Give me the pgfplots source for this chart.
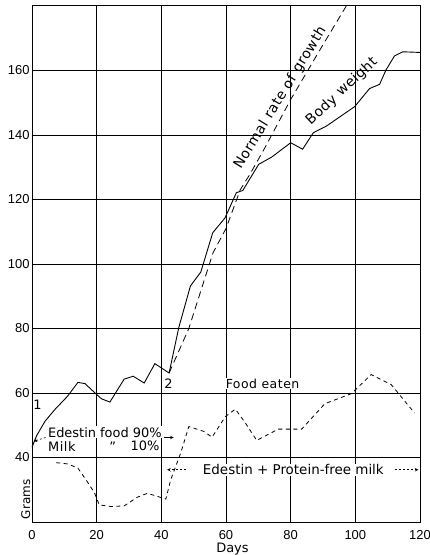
\documentclass[border=0pt]{standalone}
\usepackage{fontspec}
\setmainfont{Liberation Sans}
\newfontfamily\lblfont{DejaVu Sans}
\newfontfamily\widefont{DejaVu Sans}[LetterSpace=4]
\usepackage{pgfplots}
\pgfplotsset{compat=1.18}

% Body weight of the rat (grams) against days on the diet
\pgfplotstableread{
x y
0 43.2
1.4 46.7
4 51.2
7 54.8
11 59
14.2 63.3
16.4 62.9
19.5 60
21.5 58.2
24.1 57.2
28.5 64.3
31.3 65.2
34.7 63.1
38 69.1
42.4 66.2
45.4 80.3
49 93.2
52.2 97.5
55.9 109.7
59.7 114.3
63.2 122.1
65.2 122.8
70.1 130.9
74.2 133.2
80 137.6
83.7 135.6
87 140.7
91.1 142.8
99.8 148.8
104.4 154.4
107.5 155.7
109.5 160.2
112.1 164.5
114.7 165.8
120 165.6
}\bodyweight

% Normal rate of growth from day 42
\pgfplotstableread{
x y
42.4 66.2
48.5 80
52 91
56 103.5
60 111
64.4 123
67.5 128
72 136
80 151
90 168
97.2 180
}\normalrate

% Food eaten (grams)
\pgfplotstableread{
x y
7.5 38.4
11.1 38
14.2 36.7
16.7 33.1
19.3 29.1
20.8 25.3
24.4 24.8
28.5 25
32.6 27.7
35.7 28.9
38.3 28.1
41.4 27.1
42.9 33.1
46 41.4
48.5 49.6
53.1 48.1
55.7 46.3
59.8 52.7
62.9 55
66 50.7
69.5 45.3
76.2 48.8
83.4 48.8
90.6 56.7
98.8 59.8
104.9 65.7
111.1 62.6
118.3 53.8
}\foodeaten

\tikzset{
  lbl/.style={font=\lblfont\fontsize{13}{15}\selectfont},
  wlbl/.style={font=\widefont\fontsize{14}{16}\selectfont},
  boxed/.style={fill=white, inner sep=1pt},
  arr/.style={black, line width=0.6pt, -stealth},
}

\begin{document}
\begin{tikzpicture}
\begin{axis}[
  name=ax,
  scale only axis,
  width=388bp, height=516bp,
  xmin=0, xmax=120, ymin=20, ymax=180,
  xtick={0,20,...,120},
  ytick={40,60,...,160},
  grid=major,
  major grid style={black, line width=0.7pt},
  axis line style={black, line width=1pt},
  tick style={draw=none},
  tick label style={font=\fontsize{13}{15}\selectfont},
  /pgf/number format/assume math mode=true,
  xticklabel style={yshift=-5bp},
  yticklabel style={xshift=1bp},
  clip=false,
]
\addplot[black, line width=0.9pt] table {\bodyweight};
\addplot[black, line width=0.8pt, dash pattern=on 7bp off 4.5bp] table {\normalrate};
\addplot[black, line width=0.8pt, dash pattern=on 4bp off 3.5bp] table {\foodeaten};

\node[lbl] at (axis cs:1.7,56.3) {1};
\node[lbl] at (axis cs:42.2,63) {2};
\node[wlbl, rotate=58.5] at (axis cs:76.8,151.5) {Normal rate of growth};
\node[wlbl, rotate=43] at (axis cs:95.8,153.5) {Body weight};
\node[lbl, boxed, font=\widefont\fontsize{12.5}{14}\selectfont] at (axis cs:71.3,62.9) {Food eaten};

\node[lbl, boxed, anchor=west] at (axis cs:4.6,47.8) {Edestin food 90\%};
\node[lbl, boxed, anchor=west, font=\widefont\fontsize{13}{15}\selectfont] at (axis cs:4.6,43.5) {Milk};
\node[lbl, boxed] at (axis cs:25,43.3) {”};
\node[lbl, boxed, anchor=east] at (axis cs:39.8,43.5) {10\%};
\draw[arr, dash pattern=on 2bp off 2bp] (axis cs:4.2,46.2) -- (axis cs:0.5,45);
\draw[arr] (axis cs:40.8,46.2) -- (axis cs:43.8,46.2);

\node[lbl, boxed, anchor=west, font=\lblfont\fontsize{13.5}{15}\selectfont] at (axis cs:52.5,36.2) {Edestin + Protein-free milk};
\draw[arr, dash pattern=on 2bp off 2bp] (axis cs:112.3,36.2) -- (axis cs:119.5,36.2);
\draw[arr, dash pattern=on 2bp off 2bp] (axis cs:47.5,36.2) -- (axis cs:41.8,36.2);

\node[lbl, font=\lblfont\fontsize{12}{14}\selectfont, rotate=90, anchor=south, inner sep=1.5pt] at (axis cs:0,27) {Grams};
\node[lbl] at (axis cs:62,20) [yshift=-27bp] {Days};
\end{axis}
\pgfresetboundingbox
\path[use as bounding box] (ax.south west) ++(-32bp,-33bp) rectangle ++(430bp,555bp);
\end{tikzpicture}
\end{document}
